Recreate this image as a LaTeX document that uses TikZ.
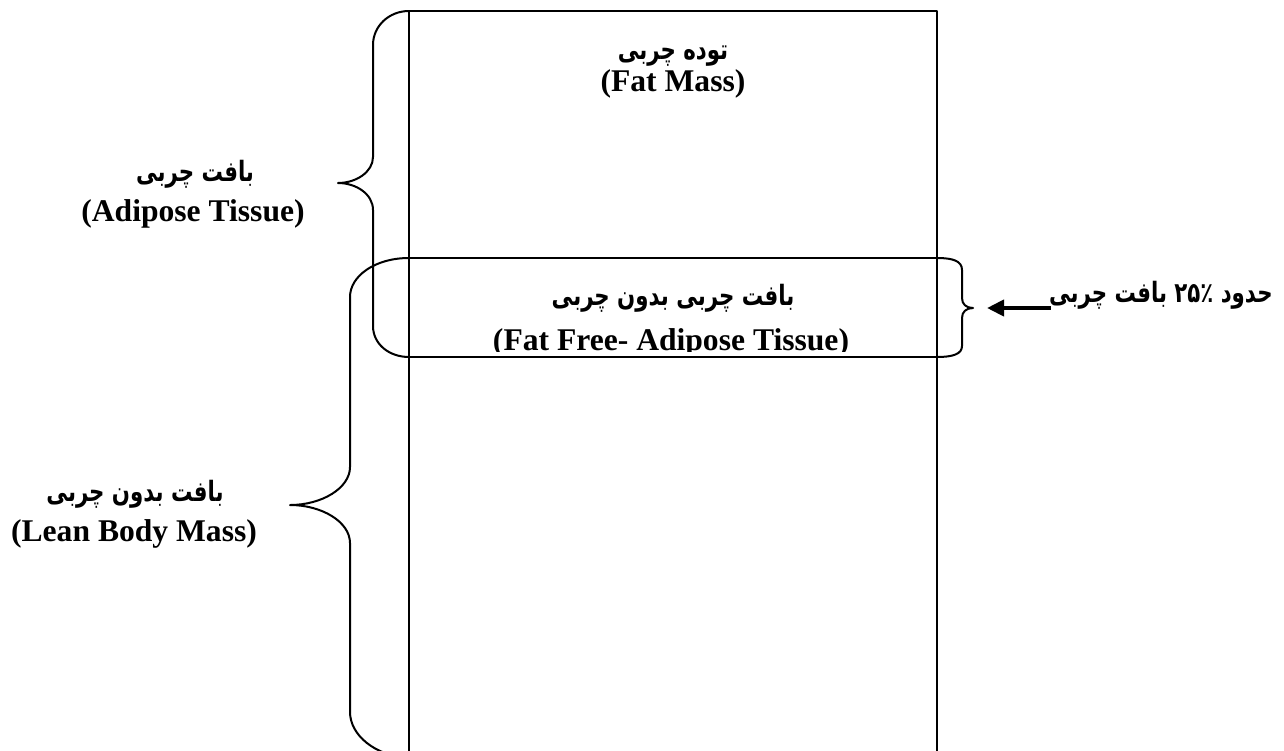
\documentclass[tikz,border=0pt]{standalone}
\usepackage{fontspec}
\setmainfont{Liberation Serif}
\newfontfamily\fa[Script=Arabic,FakeStretch=0.76]{DejaVu Sans}
\TeXXeTstate=1
\usetikzlibrary{arrows.meta}
\begin{document}
\begin{tikzpicture}[x=0.5pt,y=-0.5pt,
  lat/.style={font=\fontsize{15.8}{19}\selectfont\bfseries, inner sep=0pt, anchor=base},
  per/.style={font=\fontsize{14}{18}\fa\bfseries, inner sep=0pt, anchor=base},
  ln/.style={line width=1pt, line join=round},
  thk/.style={line width=2pt, -{Triangle[length=8.5pt,width=8pt]}}
]
\useasboundingbox (0,0) rectangle (1284,750);
\clip (0,0) rectangle (1284,750);

% main column
\draw[ln] (409,800) -- (409,11) -- (937,11) -- (937,800);
\draw[ln] (409,258) -- (937,258);
\draw[ln] (409,357) -- (937,357);

% adipose tissue brace
\draw[ln] (409,11) .. controls (389,11) and (373,26) .. (373,45) -- (373,157)
  .. controls (373,172) and (356,183) .. (338,183)
  .. controls (356,183) and (373,194) .. (373,210) -- (373,326)
  .. controls (373,344) and (389,357) .. (409,357);

% lean body mass brace
\draw[ln] (409,258) .. controls (375,258) and (350,276) .. (350,297) -- (350,467)
  .. controls (350,488) and (322,505) .. (290,505)
  .. controls (322,505) and (350,522) .. (350,543) -- (350,712)
  .. controls (350,735) and (375,756) .. (409,758);

% right brace
\draw[ln] (937,258) .. controls (953,258) and (962,261) .. (962,270) -- (962,298)
  .. controls (962,304) and (966,308) .. (973,308)
  .. controls (966,308) and (962,312) .. (962,318) -- (962,346)
  .. controls (962,354) and (953,357) .. (937,357);

% texts
\node[per] (fm1) at (673,59) {\beginR توده چربی\endR};
\node[lat] (fm2) at (673,91) {(Fat Mass)};

\node[per] (at1) at (195,181) {\beginR بافت چربی\endR};
\node[lat] (at2) at (193,221) {(Adipose Tissue)};

\node[per] (ff1) at (673,305) {\beginR بافت چربی بدون چربی\endR};
\begin{scope}
\clip (409,258) rectangle (937,351);
\node[lat] (ff2) at (671,350) {(Fat Free- Adipose Tissue)};
\end{scope}

\node[per] (lb1) at (135,501) {\beginR بافت بدون چربی\endR};
\node[lat] (lb2) at (134,541) {(Lean Body Mass)};

\node[per, anchor=base east] (pc) at (1273,302) {\beginR حدود ۲۵٪ بافت چربی\endR};
\coordinate (aend) at (987,308);
\draw[thk] ([xshift=1pt]pc.base west |- aend) -- (aend);
\end{tikzpicture}
\end{document}
